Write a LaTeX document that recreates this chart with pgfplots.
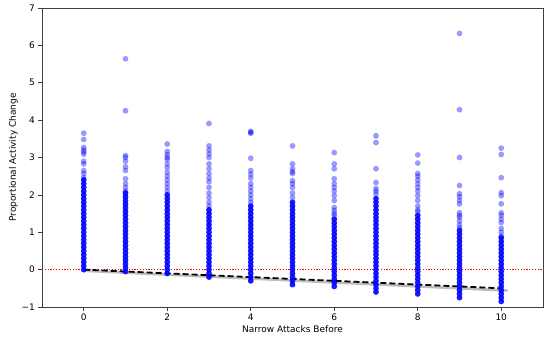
\documentclass[border=0pt]{standalone}
\usepackage{pgfplots}
\pgfplotsset{compat=1.18}
\usepackage{fontspec}
\setmainfont{DejaVu Sans}
\definecolor{ptblue}{RGB}{0,0,255}
\definecolor{fitgray}{RGB}{190,190,190}
\begin{document}
\begin{tikzpicture}
\useasboundingbox (-42pt,-31pt) rectangle (508pt,307pt);
\begin{axis}[
 at={(0,0)}, anchor=south west,
 scale only axis, width=501pt, height=299pt,
 xmin=-1, xmax=11, ymin=-1, ymax=7,
 xtick={0,2,4,6,8,10}, ytick={-1,0,1,2,3,4,5,6,7},
 yticklabels={−1,0,1,2,3,4,5,6,7},
 tick align=outside, tick pos=left, major tick length=3.5pt,
 axis line style={black!75, line width=0.6pt},
 tick style={black!75, line width=0.6pt},
 ticklabel style={font=\fontsize{9}{10}\selectfont},
 label style={font=\fontsize{9}{10}\selectfont},
 xlabel={Narrow Attacks Before}, ylabel={Proportional Activity Change},
 xlabel style={at={(axis description cs:0.5,-0.0736)}, anchor=center},
 ylabel style={at={(axis description cs:-0.0573,0.5)}, anchor=center},
 /pgf/number format/assume math mode=true,
 clip=true,
]
% zero reference
\addplot[red, line width=1.2pt, dash pattern=on 1.2pt off 1.6pt, mark=none] coordinates {(-1,0)(11,0)};
% dense parts of each column
\addplot[only marks, color=ptblue, mark=*, mark size=2.9pt, mark options={color=ptblue, fill=ptblue, draw opacity=0, fill opacity=0.9}] coordinates {
(0,0)(0,0.1)(0,0.2)(0,0.3)(0,0.4)(0,0.5)(0,0.6)(0,0.7)(0,0.8)(0,0.9)(0,1.0)(0,1.1)(0,1.2)(0,1.3)(0,1.4)(0,1.5)(0,1.6)(0,1.7)(0,1.8)(0,1.9)(0,2.0)(0,2.1)(0,2.2)(0,2.3)(0,2.4)
(1,-0.05)(1,0.05)(1,0.15)(1,0.25)(1,0.35)(1,0.45)(1,0.55)(1,0.65)(1,0.75)(1,0.85)(1,0.95)(1,1.05)(1,1.15)(1,1.25)(1,1.35)(1,1.45)(1,1.55)(1,1.65)(1,1.75)(1,1.85)(1,1.95)(1,2.05)
(2,-0.1)(2,0)(2,0.1)(2,0.2)(2,0.3)(2,0.4)(2,0.5)(2,0.6)(2,0.7)(2,0.8)(2,0.9)(2,1.0)(2,1.1)(2,1.2)(2,1.3)(2,1.4)(2,1.5)(2,1.6)(2,1.7)(2,1.8)(2,1.9)(2,2.0)
(3,-0.2)(3,-0.1)(3,0)(3,0.1)(3,0.2)(3,0.3)(3,0.4)(3,0.5)(3,0.6)(3,0.7)(3,0.8)(3,0.9)(3,1.0)(3,1.1)(3,1.2)(3,1.3)(3,1.4)(3,1.5)(3,1.6)
(4,-0.3)(4,-0.2)(4,-0.1)(4,0)(4,0.1)(4,0.2)(4,0.3)(4,0.4)(4,0.5)(4,0.6)(4,0.7)(4,0.8)(4,0.9)(4,1.0)(4,1.1)(4,1.2)(4,1.3)(4,1.4)(4,1.5)(4,1.6)(4,1.7)
(5,-0.4)(5,-0.3)(5,-0.2)(5,-0.1)(5,0)(5,0.1)(5,0.2)(5,0.3)(5,0.4)(5,0.5)(5,0.6)(5,0.7)(5,0.8)(5,0.9)(5,1.0)(5,1.1)(5,1.2)(5,1.3)(5,1.4)(5,1.5)(5,1.6)(5,1.7)(5,1.8)
(6,-0.45)(6,-0.35)(6,-0.25)(6,-0.15)(6,-0.05)(6,0.05)(6,0.15)(6,0.25)(6,0.35)(6,0.45)(6,0.55)(6,0.65)(6,0.75)(6,0.85)(6,0.95)(6,1.05)(6,1.15)(6,1.25)(6,1.35)
(7,-0.6)(7,-0.5)(7,-0.4)(7,-0.3)(7,-0.2)(7,-0.1)(7,0)(7,0.1)(7,0.2)(7,0.3)(7,0.4)(7,0.5)(7,0.6)(7,0.7)(7,0.8)(7,0.9)(7,1.0)(7,1.1)(7,1.2)(7,1.3)(7,1.4)(7,1.5)(7,1.6)(7,1.7)(7,1.8)(7,1.9)
(8,-0.65)(8,-0.55)(8,-0.45)(8,-0.35)(8,-0.25)(8,-0.15)(8,-0.05)(8,0.05)(8,0.15)(8,0.25)(8,0.35)(8,0.45)(8,0.55)(8,0.65)(8,0.75)(8,0.85)(8,0.95)(8,1.05)(8,1.15)(8,1.25)(8,1.35)(8,1.45)
(9,-0.75)(9,-0.65)(9,-0.55)(9,-0.45)(9,-0.35)(9,-0.25)(9,-0.15)(9,-0.05)(9,0.05)(9,0.15)(9,0.25)(9,0.35)(9,0.45)(9,0.55)(9,0.65)(9,0.75)(9,0.85)(9,0.95)(9,1.05)
(10,-0.85)(10,-0.75)(10,-0.65)(10,-0.55)(10,-0.45)(10,-0.35)(10,-0.25)(10,-0.15)(10,-0.05)(10,0.05)(10,0.15)(10,0.25)(10,0.35)(10,0.45)(10,0.55)(10,0.65)(10,0.75)(10,0.85)
};
% sparser points and outliers
\addplot[only marks, color=ptblue, mark=*, mark size=2.9pt, mark options={color=ptblue, fill=ptblue, draw opacity=0, fill opacity=0.4}] coordinates {
(0,2.46)(0,2.57)(0,2.65)(0,2.83)(0,2.9)(0,3.09)(0,3.15)(0,3.2)(0,3.27)(0,3.48)(0,3.65)
(1,2.1)(1,2.2)(1,2.3)(1,2.43)(1,2.65)(1,2.75)(1,2.9)(1,3.0)(1,3.05)(1,4.25)(1,5.64)
(2,2.1)(2,2.2)(2,2.3)(2,2.4)(2,2.5)(2,2.6)(2,2.73)(2,2.83)(2,2.95)(2,3.0)(2,3.08)(2,3.16)(2,3.36)
(3,1.7)(3,1.8)(3,1.93)(3,2.05)(3,2.2)(3,2.35)(3,2.45)(3,2.57)(3,2.7)(3,2.83)(3,3.0)(3,3.1)(3,3.2)(3,3.31)(3,3.91)
(4,1.8)(4,1.9)(4,2.0)(4,2.1)(4,2.2)(4,2.3)(4,2.45)(4,2.55)(4,2.65)(4,2.98)(4,3.65)(4,3.67)(4,3.7)
(5,1.93)(5,2.05)(5,2.2)(5,2.3)(5,2.38)(5,2.57)(5,2.62)(5,2.7)(5,2.83)(5,3.31)
(6,1.45)(6,1.5)(6,1.58)(6,1.66)(6,1.85)(6,1.98)(6,2.1)(6,2.2)(6,2.3)(6,2.43)(6,2.7)(6,2.83)(6,3.13)
(7,2.03)(7,2.1)(7,2.17)(7,2.33)(7,2.7)(7,3.4)(7,3.58)
(8,1.55)(8,1.6)(8,1.7)(8,1.85)(8,1.98)(8,2.1)(8,2.2)(8,2.3)(8,2.4)(8,2.5)(8,2.57)(8,2.85)(8,3.07)
(9,1.12)(9,1.2)(9,1.3)(9,1.4)(9,1.45)(9,1.52)(9,1.76)(9,1.85)(9,1.95)(9,2.03)(9,2.25)(9,3.0)(9,4.28)(9,6.32)
(10,0.9)(10,1.0)(10,1.1)(10,1.26)(10,1.35)(10,1.45)(10,1.52)(10,1.76)(10,1.98)(10,2.06)(10,2.46)(10,3.08)(10,3.25)
};
% fitted lines
\addplot[draw=fitgray, line width=2.6pt, mark=none] coordinates {(0,-0.03)(10.15,-0.56)};
\addplot[draw=black, line width=1.8pt, dash pattern=on 6pt off 3pt, mark=none] coordinates {(0,0)(10,-0.5)};
\end{axis}
\end{tikzpicture}
\end{document}
